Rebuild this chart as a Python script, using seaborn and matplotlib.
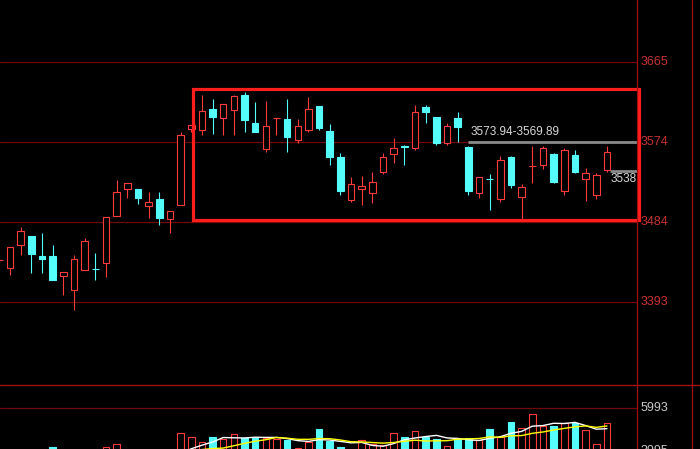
import numpy as np
import pandas as pd
import seaborn as sns
import matplotlib.pyplot as plt
from matplotlib.lines import Line2D
from matplotlib.patches import Rectangle

# Datos de las velas (indice 0 = vela cortada en el borde izquierdo)
aperturas = [3440.6, 3431.5, 3457.6, 3467.8, 3445.1, 3445.1, 3422.5, 3406.6, 3429.3, 3430.9,
             3437.2, 3490.5, 3521.1, 3521.1, 3501.8, 3509.7, 3487.1, 3502.9, 3589.1, 3587.9,
             3611.7, 3601.5, 3610.6, 3627.6, 3595.9, 3566.4, 3601.5, 3600.4, 3576.6, 3587.9,
             3615.1, 3586.8, 3557.3, 3508.6, 3521.1, 3516.5, 3540.3, 3560.7, 3569.8, 3567.5,
             3614.0, 3602.7, 3573.2, 3601.5, 3569.0, 3516.5, 3532.8, 3509.7, 3557.3, 3512.0,
             3547.1, 3548.3, 3560.7, 3518.8, 3559.6, 3532.4, 3514.3, 3542.6]
maximos = [3445.1, 3455.3, 3478.0, 3467.8, 3471.2, 3457.6, 3427.0, 3446.3, 3465.5, 3448.5,
           3489.3, 3531.3, 3527.9, 3521.1, 3517.7, 3517.7, 3496.1, 3585.7, 3593.6, 3627.6,
           3623.1, 3617.4, 3627.6, 3631.0, 3619.7, 3620.8, 3601.5, 3623.1, 3600.4, 3625.3,
           3615.1, 3594.7, 3561.9, 3534.7, 3535.8, 3540.3, 3561.9, 3578.9, 3570.9, 3616.3,
           3616.3, 3602.7, 3595.9, 3608.3, 3569.89, 3534.7, 3538.1, 3558.5, 3558.5, 3526.7,
           3569.8, 3569.8, 3561.9, 3567.5, 3565.3, 3544.9, 3539.2, 3569.8]
minimos = [3436.1, 3423.6, 3446.3, 3425.9, 3425.9, 3417.9, 3400.9, 3383.9, 3429.3, 3417.9,
           3421.3, 3490.5, 3510.9, 3504.1, 3488.2, 3480.3, 3471.2, 3502.9, 3585.7, 3582.3,
           3583.4, 3582.3, 3582.3, 3585.7, 3585.7, 3563.0, 3582.3, 3563.0, 3573.2, 3585.7,
           3587.9, 3548.3, 3514.3, 3506.3, 3502.9, 3505.2, 3538.1, 3550.5, 3548.3, 3565.3,
           3595.9, 3570.9, 3570.9, 3573.94, 3514.3, 3510.9, 3497.3, 3506.3, 3522.2, 3485.9,
           3527.9, 3543.7, 3527.9, 3514.3, 3539.2, 3507.5, 3509.7, 3540.3]
cierres = [3440.6, 3455.3, 3473.5, 3447.4, 3441.7, 3417.9, 3427.0, 3441.7, 3462.1, 3430.4,
           3489.3, 3517.7, 3527.9, 3510.9, 3506.3, 3488.2, 3496.1, 3582.3, 3593.6, 3609.5,
           3602.7, 3617.4, 3626.5, 3599.3, 3585.7, 3592.5, 3601.5, 3580.0, 3592.5, 3611.7,
           3590.2, 3557.3, 3518.8, 3526.7, 3524.5, 3529.0, 3557.3, 3567.5, 3568.7, 3608.3,
           3608.3, 3573.2, 3592.5, 3591.3, 3518.8, 3534.7, 3532.4, 3553.9, 3525.6, 3523.3,
           3547.1, 3567.5, 3529.0, 3565.3, 3540.3, 3539.2, 3536.9, 3563.0]
volumenes = [3500, 3600, 3400, 3700, 3300, 4190, 3500, 3800, 3600, 3400,
             4180, 4320, 3700, 3500, 3600, 3900, 3500, 4840, 4640, 4430,
             4640, 4550, 4780, 4600, 4600, 4600, 4550, 4500, 4130, 4410,
             5020, 4460, 4180, 3800, 4500, 4320, 4270, 4820, 4660, 4920,
             4660, 4540, 4230, 4540, 4610, 4500, 5020, 4630, 5330, 5050,
             5710, 5160, 5160, 5280, 5310, 4970, 4320, 5280]

etiquetas_precio = [3393, 3484, 3574, 3665]
etiquetas_vol = [5993, 3995]
gap_alto = 3573.94
gap_bajo = 3569.89
nivel_ultimo = 3538

ROJO = "#ff3c3c"
CIAN = "#54fcfc"
ROJO_TXT = "#c83232"
GRILLA = "#700808"
SEPARADOR = "#a01010"

df = pd.DataFrame({"open": aperturas, "high": maximos, "low": minimos,
                   "close": cierres, "vol": volumenes})
df["x"] = np.arange(len(df))
df["sube"] = df["close"] >= df["open"]
df["ma5"] = df["vol"].rolling(5).mean()
df["ma10"] = df["vol"].rolling(10).mean()
sube = df[df["sube"]]
baja = df[~df["sube"]]

sns.set_theme(style="dark", rc={"axes.facecolor": "black", "figure.facecolor": "black"})
plt.rcParams["font.family"] = ["Liberation Sans", "DejaVu Sans"]

fig = plt.figure(figsize=(7, 4.49), dpi=100, facecolor="black")
ax = fig.add_axes([0, 64 / 449, 637 / 700, 385 / 449])
axv = fig.add_axes([0, 0, 637 / 700, 64 / 449])
for a in (ax, axv):
    a.set_axis_off()
    a.set_xlim(0.062, 59.82)
ax.set_ylim(3298.9, 3735.3)
axv.set_ylim(4086.5, 7062.5)

# Grilla y etiquetas del precio
for v in etiquetas_precio:
    ax.axhline(v, color=GRILLA, lw=0.9, zorder=0)
    ax.text(1.0063, v, str(v), transform=ax.get_yaxis_transform(), color=ROJO_TXT,
            fontsize=9, va="center", ha="left")

# Velas
colores = [ROJO if s else CIAN for s in df["sube"]]
ax.vlines(df["x"], df["low"], df["high"], colors=colores, lw=0.8, zorder=2)
ax.bar(sube["x"], sube["close"] - sube["open"], bottom=sube["open"], width=0.62,
       facecolor="black", edgecolor=ROJO, lw=0.8, zorder=3)
ax.bar(baja["x"], baja["open"] - baja["close"], bottom=baja["close"], width=0.62,
       facecolor=CIAN, edgecolor=CIAN, lw=0.8, zorder=3)

# Caja roja y marcas de gap
ax.add_patch(Rectangle((18.15, 3485.5), 60.0 - 18.15, 3634.4 - 3485.5, fill=False,
                       edgecolor="#ff1e1e", lw=2.3, clip_on=False, zorder=5))
ax.hlines(gap_alto, 44, 59.82, colors="#8a8a8a", lw=2, zorder=4)
ax.text(44.2, 3585.5, f"{gap_alto:.2f}-{gap_bajo:.2f}", color="#d8d8d8",
        fontsize=8.5, va="center", ha="left", zorder=6)
ax.hlines(3541, 57.3, 59.82, colors="#8a8a8a", lw=2, zorder=4)
ax.text(57.3, 3532.6, str(nivel_ultimo), color="#d8d8d8", fontsize=8.5,
        va="center", ha="left", zorder=6)

# Volumen
axv.axhline(etiquetas_vol[0], color=GRILLA, lw=0.9, zorder=0)
for v in etiquetas_vol:
    axv.text(1.0063, v, str(v), transform=axv.get_yaxis_transform(), color="#c8c8c8",
             fontsize=9, va="center", ha="left")
vs = df[df["sube"]]
vb = df[~df["sube"]]
axv.bar(vs["x"], vs["vol"], width=0.62, facecolor="black", edgecolor=ROJO, lw=0.8, zorder=2)
axv.bar(vb["x"], vb["vol"], width=0.62, facecolor=CIAN, edgecolor=CIAN, lw=0.8, zorder=2)
sns.lineplot(data=df, x="x", y="ma5", ax=axv, color="white", lw=1, zorder=3)
sns.lineplot(data=df, x="x", y="ma10", ax=axv, color="#ffff00", lw=1, zorder=3)
axv.set_axis_off()

# Lineas separadoras
fig.add_artist(Line2D([0, 1], [64 / 449, 64 / 449], transform=fig.transFigure,
                      color=SEPARADOR, lw=1))
for xp in (637, 692):
    fig.add_artist(Line2D([xp / 700, xp / 700], [0, 1], transform=fig.transFigure,
                          color=SEPARADOR, lw=0.9))

plt.savefig("out.png", dpi=100, facecolor="black")
plt.close()
